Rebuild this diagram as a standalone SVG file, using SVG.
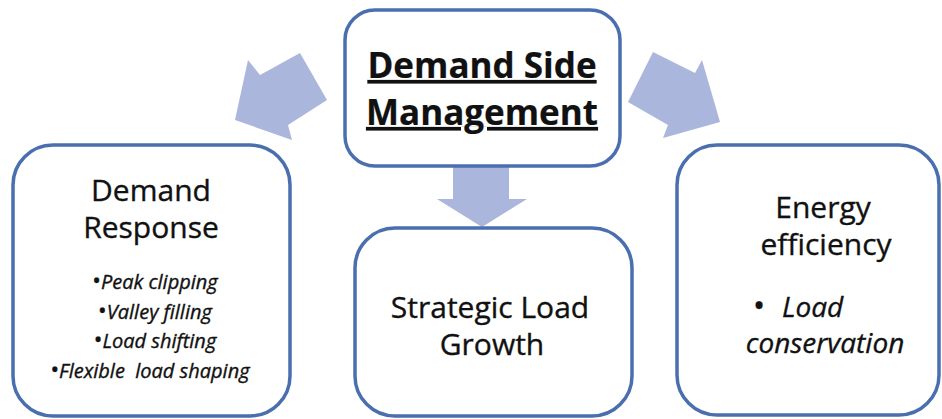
<svg xmlns="http://www.w3.org/2000/svg" width="942" height="419" viewBox="0 0 942 419">
<style>
.box{fill:#fff;stroke:#4a6fae;stroke-width:3.5}
.arr{fill:#aab6dc;stroke:none}
text{font-family:"Open Sans","Noto Sans",sans-serif;fill:#111;stroke:#111;stroke-width:0.35;text-anchor:middle}
.title{font-weight:bold;font-size:35px;text-decoration:underline;stroke-width:0.2}
.h{font-size:30px}
.b{font-size:20px;font-style:italic}
.bi{font-size:28px;font-style:italic}
.dot{font-style:normal;font-size:1.15em}
</style>
<rect width="942" height="419" fill="#fff"/>
<g id="connectors">
<polygon class="arr" points="235,120 248,60 260,75 300,53 327,100 288,125 292,140"/>
<polygon class="arr" points="653,52 695,73 702,60 720,122 663,138 668,125 628,102"/>
<polygon class="arr" points="453,166 509,166 509,199 527,199 482,227 437,199 453,199"/>
</g>
<g id="dsm">
<rect class="box" x="345" y="10" width="275" height="156" rx="30"/>
<text class="title" x="482" y="78">Demand Side</text>
<text class="title" x="482" y="125">Management</text>
</g>
<g id="demand-response">
<rect class="box" x="13" y="145" width="277" height="271" rx="40"/>
<text class="h" x="151" y="201">Demand</text>
<text class="h" x="151" y="238">Response</text>
<text class="b" x="155" y="289"><tspan class="dot">•</tspan>Peak clipping</text>
<text class="b" x="155" y="319"><tspan class="dot">•</tspan>Valley filling</text>
<text class="b" x="155" y="348"><tspan class="dot">•</tspan>Load shifting</text>
<text class="b" x="150" y="378" xml:space="preserve"><tspan class="dot">•</tspan>Flexible  load shaping</text>
</g>
<g id="strategic-load-growth">
<rect class="box" x="355" y="228" width="277" height="188" rx="40"/>
<text class="h" x="490" y="318">Strategic Load</text>
<text class="h" x="492" y="355">Growth</text>
</g>
<g id="energy-efficiency">
<rect class="box" x="677" y="145" width="262" height="270" rx="40"/>
<text class="h" x="823" y="218">Energy</text>
<text class="h" x="826" y="255">efficiency</text>
<text class="bi" x="759" y="317"><tspan class="dot">•</tspan></text>
<text class="bi" x="782" y="317" style="text-anchor:start">Load</text>
<text class="bi" x="825" y="353">conservation</text>
</g>
</svg>
